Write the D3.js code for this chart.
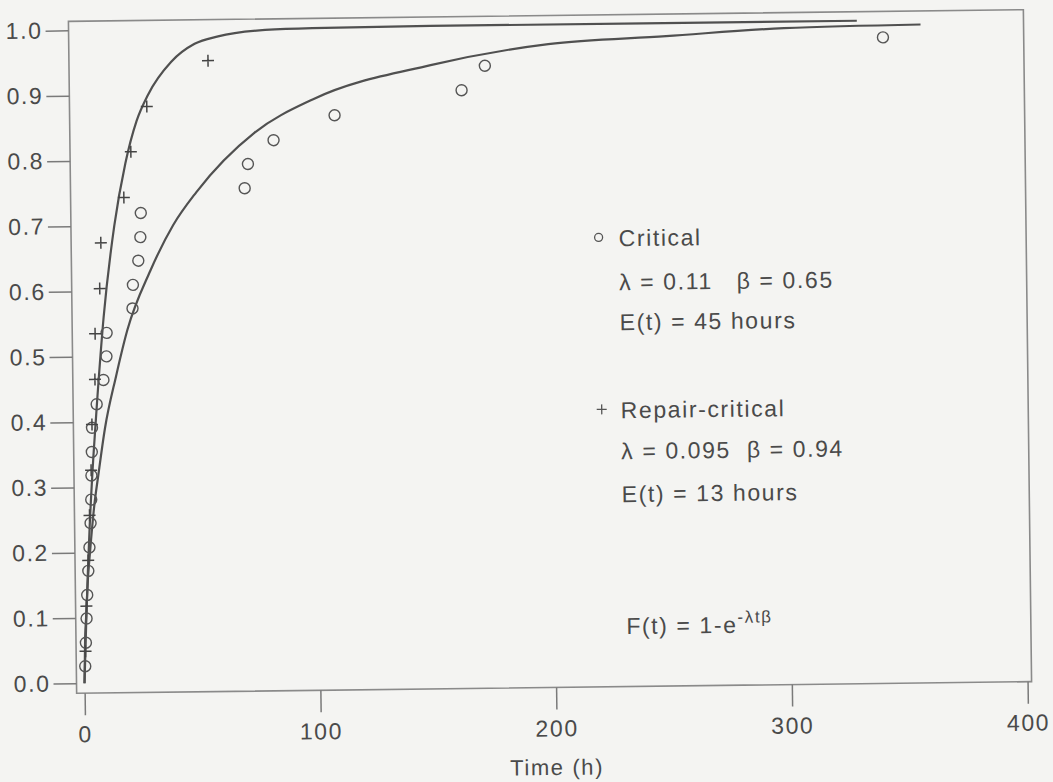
<!DOCTYPE html>
<html>
<head>
    <meta charset="utf-8">
    <!-- Load d3.js -->
    <script src="https://d3js.org/d3.v7.min.js"></script>
    <style>
    body { margin: 0; background-color: #f4f4f2; }
    text { font-family: "Liberation Sans", Arial, sans-serif; fill: #4a4a4a; letter-spacing: 1.6px; white-space: pre; }
    </style>
</head>
<body>
<div id="my_dataviz"></div>
<script>
// Critical events: time (h) and cumulative fraction
var critTime = [0.4, 0.8, 1.2, 1.6, 2.2, 2.8, 3.4, 3.8, 4.0, 4.3, 4.5, 6.6, 9.6, 11.0, 11.2, 22.3, 22.6, 25.0, 26.0, 26.3, 70.5, 72.0, 83, 109, 163, 173, 342];
var critFrac = [0.026, 0.062, 0.099, 0.135, 0.172, 0.208, 0.245, 0.281, 0.318, 0.354, 0.391, 0.427, 0.464, 0.500, 0.536, 0.573, 0.609, 0.646, 0.682, 0.719, 0.755, 0.792, 0.828, 0.865, 0.901, 0.938, 0.974];

// Repair-critical events
var repTime = [0.6, 1.2, 2.2, 3.0, 3.9, 4.5, 6.0, 6.3, 8.5, 9.2, 19.2, 22.4, 29.4, 55.6];
var repFrac = [0.049, 0.118, 0.188, 0.257, 0.326, 0.396, 0.465, 0.535, 0.604, 0.674, 0.743, 0.813, 0.882, 0.951];

// fitted curves, points
var critFitTime = [0, 0.5, 1, 2, 3, 5, 7, 10, 15, 20, 30, 40, 50, 75, 100, 150, 200, 250, 300, 358];
var critFitFrac = [0, 0.07, 0.10, 0.16, 0.20, 0.27, 0.32, 0.39, 0.47, 0.54, 0.63, 0.70, 0.75, 0.84, 0.89, 0.94, 0.97, 0.98, 0.99, 0.993];
var repFitTime = [0, 1, 2, 3, 5, 7, 10, 15, 20, 25, 30, 40, 50, 60, 80, 100, 150, 331];
var repFitFrac = [0, 0.09, 0.17, 0.24, 0.35, 0.44, 0.56, 0.70, 0.795, 0.86, 0.90, 0.95, 0.977, 0.988, 0.997, 0.999, 1.0, 1.0];

// axis ticks
var xTicks = [0, 100, 200, 300, 400];
var yTicks = [0, 0.1, 0.2, 0.3, 0.4, 0.5, 0.6, 0.7, 0.8, 0.9, 1.0];

// frame of the plot
var frame = {left: 72.5, top: 15.5, right: 1027.5, bottom: 687.5};

var svg = d3.select("#my_dataviz")
  .append("svg")
    .attr("width", 1053)
    .attr("height", 782);

svg.append("rect")
    .attr("width", 1053)
    .attr("height", 782)
    .attr("fill", "#f4f4f2");

// the scanned figure sits slightly tilted
var g = svg.append("g")
    .attr("transform", "rotate(-0.7, 550, 351.5)");

var x = d3.scaleLinear().domain([0, 400]).range([80.5, 1023.5]);
var y = d3.scaleLinear().domain([0, 1]).range([677.5, 24.5]);

g.append("rect")
    .attr("x", frame.left)
    .attr("y", frame.top)
    .attr("width", frame.right - frame.left)
    .attr("height", frame.bottom - frame.top)
    .attr("fill", "none")
    .attr("stroke", "#8a8a8a")
    .attr("stroke-width", 1.6);

// Y axis
var yAxis = g.append("g")
    .attr("transform", "translate(" + frame.left + ",0)")
    .call(d3.axisLeft(y).tickValues(yTicks).tickFormat(d3.format(".1f")).tickSize(23).tickPadding(3));
yAxis.select(".domain").remove();
yAxis.selectAll("line").attr("stroke", "#7a7a7a").attr("stroke-width", 1.5);
yAxis.selectAll("text").attr("font-size", 23).attr("fill", "#4a4a4a");

// X axis
var xAxis = g.append("g")
    .attr("transform", "translate(0," + frame.bottom + ")")
    .call(d3.axisBottom(x).tickValues(xTicks).tickSize(22));
xAxis.select(".domain").remove();
xAxis.selectAll("line").attr("stroke", "#7a7a7a").attr("stroke-width", 1.5);
xAxis.selectAll("text").attr("font-size", 23).attr("fill", "#4a4a4a")
    .attr("y", 49).attr("dy", 0);

g.append("text")
    .attr("x", x(200))
    .attr("y", 775)
    .attr("text-anchor", "middle")
    .attr("font-size", 22)
    .text("Time (h)");

// fitted lines
var line = d3.line()
    .x(function(d) { return x(d[0]); })
    .y(function(d) { return y(d[1]); })
    .curve(d3.curveMonotoneX);

[[critFitTime, critFitFrac], [repFitTime, repFitFrac]].forEach(function(s) {
  g.append("path")
    .datum(d3.zip(s[0], s[1]))
    .attr("d", line)
    .attr("fill", "none")
    .attr("stroke", "#505050")
    .attr("stroke-width", 2.2);
});

// circles for critical
g.selectAll("circle.crit")
  .data(d3.zip(critTime, critFrac))
  .enter()
  .append("circle")
    .attr("class", "crit")
    .attr("cx", function(d) { return x(d[0]); })
    .attr("cy", function(d) { return y(d[1]); })
    .attr("r", 5.5)
    .attr("fill", "none")
    .attr("stroke", "#555")
    .attr("stroke-width", 1.4);

// plus signs for repair-critical
var plus = "M-6,0H6M0,-6V6";
g.selectAll("path.rep")
  .data(d3.zip(repTime, repFrac))
  .enter()
  .append("path")
    .attr("class", "rep")
    .attr("transform", function(d) { return "translate(" + x(d[0]) + "," + y(d[1]) + ")"; })
    .attr("d", plus)
    .attr("stroke", "#444")
    .attr("stroke-width", 1.5);

// legend and annotation text
g.append("circle")
    .attr("cx", 600).attr("cy", 238).attr("r", 4)
    .attr("fill", "none").attr("stroke", "#555").attr("stroke-width", 1.3);
g.append("path")
    .attr("transform", "translate(601,410)")
    .attr("d", "M-5,0H5M0,-5V5")
    .attr("stroke", "#555").attr("stroke-width", 1.3);

var notes = [
  ["Critical", 247],
  ["\u03bb = 0.11   \u03b2 = 0.65", 291],
  ["E(t) = 45 hours", 331],
  ["Repair-critical", 419],
  ["\u03bb = 0.095  \u03b2 = 0.94", 460],
  ["E(t) = 13 hours", 503]
];
g.selectAll("text.note")
  .data(notes)
  .enter()
  .append("text")
    .attr("class", "note")
    .attr("x", 620)
    .attr("y", function(d) { return d[1]; })
    .attr("font-size", 23)
    .text(function(d) { return d[0]; });

var formula = g.append("text")
    .attr("x", 623)
    .attr("y", 635)
    .attr("font-size", 23);
formula.append("tspan").text("F(t) = 1-e");
formula.append("tspan").attr("dy", -10).attr("font-size", 17).text("-\u03bbt\u03b2");
</script>
</body>
</html>
